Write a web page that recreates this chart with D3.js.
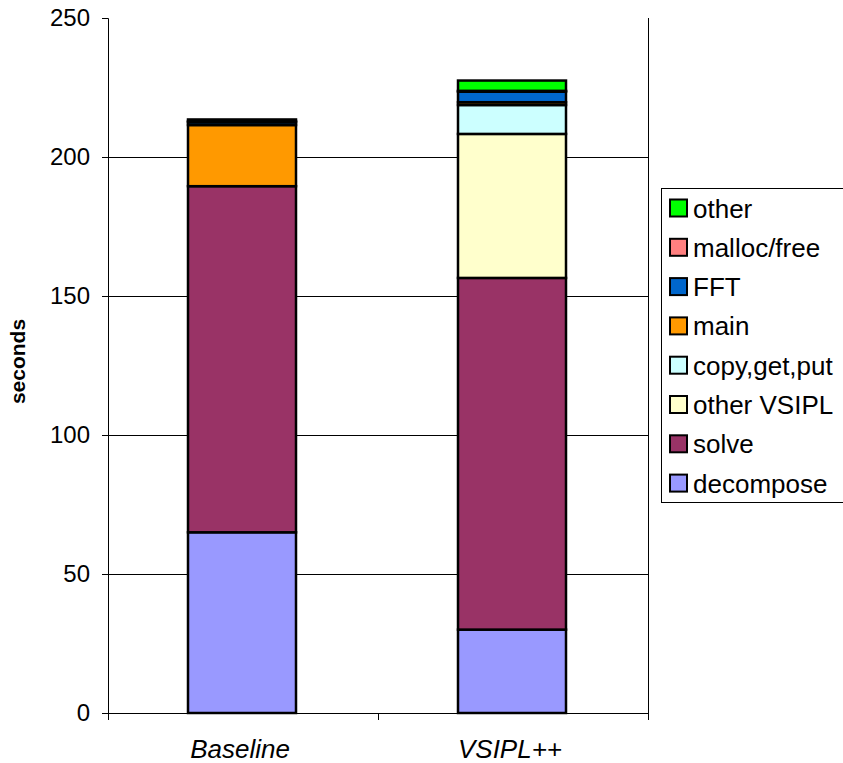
<!DOCTYPE html>
<html>
<head>
<meta charset="utf-8">
<script src="https://cdn.jsdelivr.net/npm/d3@7"></script>
<style>
  html, body { margin: 0; padding: 0; background: #fff; }
  svg { display: block; font-family: "Liberation Sans", Arial, sans-serif; }
</style>
</head>
<body>
<svg id="chart" width="843" height="763"></svg>
<script>
// Run time per program phase, in seconds
const categories = ["Baseline", "VSIPL++"];
const seriesKeys = ["decompose", "solve", "other VSIPL", "copy,get,put", "main", "FFT", "malloc/free", "other"];
const seriesColors = ["#9999FF", "#993366", "#FFFFCC", "#CCFFFF", "#FF9900", "#0066CC", "#FF8080", "#00FF00"];

const decompose  = [65, 30];
const solve      = [124.5, 126.5];
const otherVsipl = [0, 51.8];
const copyGetPut = [0, 10.4];
const mainPhase  = [22, 1];
const fft        = [1, 3.8];
const mallocFree = [0.4, 0.3];
const other      = [0.6, 3.7];

const yTicks = [0, 50, 100, 150, 200, 250];
const yLabel = "seconds";

const seriesValues = [decompose, solve, otherVsipl, copyGetPut, mainPhase, fft, mallocFree, other];
const rows = categories.map((c, i) => {
  const r = { category: c };
  seriesKeys.forEach((k, j) => { r[k] = seriesValues[j][i]; });
  return r;
});

const svg = d3.select("#chart");
const plot = { left: 108, right: 648, top: 18, bottom: 713 };

const x = d3.scaleBand().domain(categories).range([plot.left, plot.right]).padding(0);
const y = d3.scaleLinear().domain([0, 250]).range([plot.bottom, plot.top]);
const color = d3.scaleOrdinal().domain(seriesKeys).range(seriesColors);

// horizontal gridlines
svg.append("g")
  .selectAll("line")
  .data(yTicks.filter(t => t > 0 && t < 250))
  .join("line")
  .attr("x1", plot.left).attr("x2", plot.right)
  .attr("y1", d => y(d)).attr("y2", d => y(d))
  .attr("stroke", "#000").attr("stroke-width", 1)
  .attr("shape-rendering", "crispEdges");

// right edge of the plot area
svg.append("line")
  .attr("x1", plot.right).attr("x2", plot.right)
  .attr("y1", plot.top).attr("y2", plot.bottom)
  .attr("stroke", "#000").attr("stroke-width", 1)
  .attr("shape-rendering", "crispEdges");

// stacked bars
const stacked = d3.stack().keys(seriesKeys)(rows);
const barW = x.bandwidth() * 0.4;
svg.append("g")
  .selectAll("g")
  .data(stacked)
  .join("g")
  .attr("fill", d => color(d.key))
  .selectAll("rect")
  .data(d => d.filter(s => s[1] - s[0] > 0))
  .join("rect")
  .attr("x", d => x(d.data.category) + (x.bandwidth() - barW) / 2 - 1)
  .attr("y", d => y(d[1]))
  .attr("width", barW)
  .attr("height", d => y(d[0]) - y(d[1]))
  .attr("stroke", "#000")
  .attr("stroke-width", 2.5);

// y axis
const yAxis = svg.append("g")
  .attr("transform", `translate(${plot.left},0)`)
  .call(d3.axisLeft(y).tickValues(yTicks).tickSize(6).tickPadding(12).tickFormat(d3.format("d")));
yAxis.select(".domain").attr("stroke", "#000").attr("stroke-width", 1);
yAxis.selectAll(".tick line").attr("stroke", "#000");
yAxis.selectAll(".tick text")
  .attr("font-family", "Liberation Sans, Arial, sans-serif")
  .attr("font-size", 24).attr("fill", "#000");

// x axis with ticks at category boundaries
const xAxisG = svg.append("g").attr("transform", `translate(0,${plot.bottom})`);
xAxisG.append("line")
  .attr("x1", plot.left).attr("x2", plot.right)
  .attr("stroke", "#000").attr("stroke-width", 1)
  .attr("shape-rendering", "crispEdges");
const boundaries = categories.map(c => x(c)).concat([x(categories[categories.length - 1]) + x.bandwidth()]);
xAxisG.selectAll("line.tk")
  .data(boundaries)
  .join("line")
  .attr("class", "tk")
  .attr("x1", d => d).attr("x2", d => d)
  .attr("y1", 0).attr("y2", 7)
  .attr("stroke", "#000").attr("stroke-width", 1)
  .attr("shape-rendering", "crispEdges");
xAxisG.selectAll("text")
  .data(categories)
  .join("text")
  .attr("x", d => x(d) + x.bandwidth() / 2 - 3)
  .attr("y", 45)
  .attr("text-anchor", "middle")
  .attr("font-size", 26)
  .attr("font-style", "italic")
  .attr("fill", "#000")
  .text(d => d);

// y axis title
svg.append("text")
  .attr("transform", `translate(25,${(plot.top + plot.bottom) / 2 - 4}) rotate(-90)`)
  .attr("text-anchor", "middle")
  .attr("font-size", 21)
  .attr("font-weight", "bold")
  .attr("fill", "#000")
  .text(yLabel);

// legend, topmost series first
const legend = svg.append("g").attr("transform", "translate(661,188)");
legend.append("rect")
  .attr("x", 0.5).attr("y", 0.5)
  .attr("width", 190).attr("height", 314)
  .attr("fill", "#fff").attr("stroke", "#000").attr("stroke-width", 1);
const legendKeys = seriesKeys.slice().reverse();
const item = legend.selectAll("g.item")
  .data(legendKeys)
  .join("g")
  .attr("class", "item")
  .attr("transform", (d, i) => `translate(0,${20 + i * 39.3})`);
item.append("rect")
  .attr("x", 9).attr("y", -8.5)
  .attr("width", 17).attr("height", 17)
  .attr("fill", d => color(d))
  .attr("stroke", "#000").attr("stroke-width", 2);
item.append("text")
  .attr("x", 32).attr("y", 9.5)
  .attr("font-size", 26)
  .attr("fill", "#000")
  .text(d => d);
</script>
</body>
</html>
